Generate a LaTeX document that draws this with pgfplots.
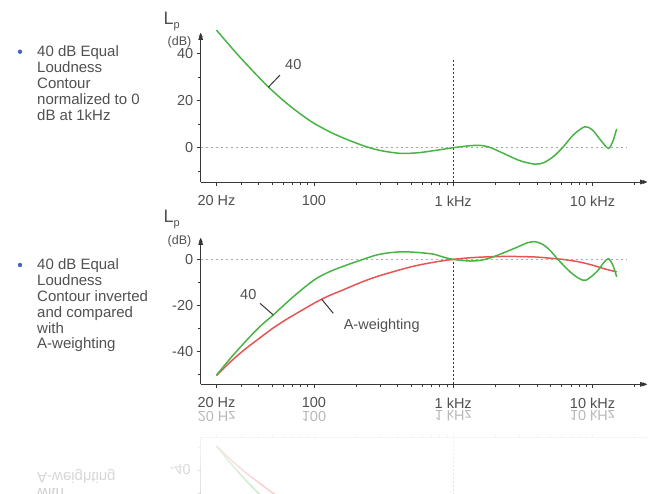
\documentclass[border=0pt]{standalone}
\usepackage{pgfplots}
\pgfplotsset{compat=1.18}
\usepackage{pgfplotstable}
\usepackage{fontspec}
\setmainfont{Liberation Sans}
\usetikzlibrary{arrows.meta,fadings}
\definecolor{txt}{RGB}{80,80,80}
\definecolor{gcurve}{RGB}{72,180,68}
\definecolor{rcurve}{RGB}{232,84,84}
\definecolor{axisc}{RGB}{55,55,55}
\definecolor{axisl}{RGB}{150,150,150}
\definecolor{dashg}{RGB}{165,165,165}
\definecolor{dashv}{RGB}{175,165,205}
\definecolor{bullet}{RGB}{70,100,200}

\pgfplotstableread{
f db
20 50
25 43.3
30 38
38 31.5
47 25.9
60 20.2
75 15.6
100 10.4
145 5.4
225 0.9
300 -1.2
414 -2.4
550 -2.2
718 -1.3
1000 0
1300 0.8
1550 1.0
1800 0.3
2160 -1.7
3000 -5.5
3860 -7.0
4500 -6.3
5300 -3.5
6170 0.4
7300 5.5
8800 8.9
10000 7.5
11500 3.0
13000 -0.3
14000 2.8
14900 8.0
}\topgreen

\pgfplotstableread{
f db
20 -50.3
25 -43.2
30 -37.8
35 -33.4
42 -28.6
51 -24.2
70 -16.6
100 -9.0
130 -5.3
171 -2.5
220 -0.2
281 1.9
350 2.9
437 3.3
560 3.0
718 2.3
850 1.0
1000 0
1320 -0.7
1600 -0.3
1940 1.1
2800 5.0
3400 7.2
3860 7.7
4400 6.5
4940 4.0
5800 -0.8
6900 -5.4
8000 -8.3
9000 -9.0
10700 -5.4
12000 -1.5
13000 0.3
14000 -2.5
14900 -7.6
}\botgreen

\pgfplotstableread{
f db
20 -50.5
25 -44.7
31.5 -39.4
40 -34.6
50 -30.2
63 -26.2
80 -22.5
100 -19.1
125 -16.1
160 -13.4
200 -10.9
250 -8.6
315 -6.6
400 -4.8
500 -3.2
630 -1.9
800 -0.8
1000 0
1250 0.6
1600 1.0
2000 1.2
2500 1.3
3150 1.2
4000 1.0
5000 0.5
6300 -0.1
8000 -1.1
10000 -2.5
12500 -4.3
14900 -5.4
}\aweight

\begin{document}
\begin{tikzpicture}[x=1pt,y=1pt]
\clip (0,0) rectangle (648,493);

% ---------- top axis ----------
\begin{axis}[at={(200.7pt,311pt)}, anchor=south west,
  scale only axis, width=446.3pt, height=149pt,
  xmode=log, xmin=15.4, xmax=24600, ymin=-14.6, ymax=48.8,
  axis lines=left,
  axis line style={axisc, line width=0.8pt},
  tick style={axisc, line width=0.6pt},
  major tick length=4pt, minor tick length=3pt, tick align=outside,
  xtick={20,100,1000,10000},
  xticklabels={20 Hz,100,1 kHz,10 kHz},
  minor xtick={30,40,50,60,70,80,90,200,300,400,500,600,700,800,900,2000,3000,4000,5000,6000,7000,8000,9000,20000},
  ytick={0,20,40}, yticklabels={0,20,40}, minor ytick={-10,10,30},
  tick label style={font=\fontsize{14.5}{14.5}\selectfont, text=txt},
  xticklabel style={yshift=-6pt},
  clip=false]
\draw[dashg, line width=0.8pt, dash pattern=on 2.5pt off 2.5pt] (axis cs:15.4,0) -- (axis cs:17500,0);
\draw[axisc, line width=0.8pt, dash pattern=on 2pt off 2pt] (axis cs:1000,-14.6) -- (axis cs:1000,37.3);
\addplot[gcurve, line width=1.5pt, smooth, mark=none] table[x=f,y=db] {\topgreen};
\end{axis}

% ---------- bottom axis ----------
\begin{axis}[at={(200.7pt,108.7pt)}, anchor=south west,
  scale only axis, width=446.3pt, height=146.3pt,
  xmode=log, xmin=15.4, xmax=24600, ymin=-54.3, ymax=9.3,
  axis lines=left,
  axis line style={axisc, line width=0.8pt},
  tick style={axisc, line width=0.6pt},
  major tick length=4pt, minor tick length=3pt, tick align=outside,
  xtick={20,100,1000,10000},
  xticklabels={20 Hz,100,1 kHz,10 kHz},
  minor xtick={30,40,50,60,70,80,90,200,300,400,500,600,700,800,900,2000,3000,4000,5000,6000,7000,8000,9000,20000},
  ytick={-40,-20,0}, yticklabels={-40,-20,0}, minor ytick={-50,-30,-10},
  tick label style={font=\fontsize{14.5}{14.5}\selectfont, text=txt},
  xticklabel style={yshift=-6pt},
  clip=false]
\draw[dashv, line width=0.9pt, dash pattern=on 2.5pt off 2.5pt] (axis cs:15.4,0) -- (axis cs:17500,0);
\draw[axisc, line width=0.8pt, dash pattern=on 2pt off 2pt] (axis cs:1000,-54.3) -- (axis cs:1000,0);
\addplot[rcurve, line width=1.5pt, smooth, mark=none] table[x=f,y=db] {\aweight};
\addplot[gcurve, line width=1.5pt, smooth, mark=none] table[x=f,y=db] {\botgreen};
\end{axis}

% ---------- reflection (mirror image of the lower panel) ----------
\begin{scope}[opacity=0.4]
\begin{axis}[at={(200.7pt,56pt)}, anchor=north west,
  scale only axis, width=446.3pt, height=146.3pt,
  xmode=log, xmin=15.4, xmax=24600, ymin=-9.3, ymax=54.3,
  axis x line=top, axis y line=left,
  axis line style={axisl, line width=0.8pt, -},
  tick style={axisl, line width=0.6pt},
  major tick length=4pt, minor tick length=3pt, tick align=outside,
  xtick={20,100,1000,10000}, xticklabels={},
  minor xtick={30,40,50,60,70,80,90,200,300,400,500,600,700,800,900,2000,3000,4000,5000,6000,7000,8000,9000,20000},
  ytick={0,20,40}, yticklabels={}, minor ytick={10,30,50},
  clip=false]
\draw[dashv, line width=0.9pt, dash pattern=on 2.5pt off 2.5pt] (axis cs:15.4,0) -- (axis cs:17500,0);
\draw[axisl, line width=0.8pt, dash pattern=on 2pt off 2pt] (axis cs:1000,54.3) -- (axis cs:1000,0);
\addplot[rcurve, line width=1.5pt, smooth, mark=none] table[x=f,y expr=-\thisrow{db}] {\aweight};
\addplot[gcurve, line width=1.5pt, smooth, mark=none] table[x=f,y expr=-\thisrow{db}] {\botgreen};
\end{axis}
\foreach \t/\x in {20 Hz/216.7, 100/314, 1 kHz/453.3, 10 kHz/592.6}
  \node[yscale=-1, inner sep=0, text=txt, font=\fontsize{14.5}{14.5}\selectfont] at (\x,77) {\t};
\node[yscale=-1, anchor=east, inner sep=0, text=txt, font=\fontsize{14.5}{14.5}\selectfont] at (191,23.5) {-40};
\node[yscale=-1, anchor=base west, inner sep=0, text=txt, font=\fontsize{15}{15}\selectfont] at (37,20.8) {A-weighting};
\node[yscale=-1, anchor=base west, inner sep=0, text=txt, font=\fontsize{15}{15}\selectfont] at (37,5) {with};
\end{scope}
\fill[white, path fading=south, fill opacity=0.85] (0,-30) rectangle (648,66);

% ---------- arrow heads of the axes ----------
\fill[axisc] (647,311) -- (640,313.5) -- (640,308.5) -- cycle;
\fill[axisc] (200.7,460) -- (198.2,453) -- (203.2,453) -- cycle;
\fill[axisc] (647,108.7) -- (640,111.2) -- (640,106.2) -- cycle;
\fill[axisc] (200.7,255) -- (198.2,248) -- (203.2,248) -- cycle;

% ---------- Lp labels ----------
\node[text=txt, inner sep=0] at (171.7,472) {\fontsize{18}{18}\selectfont L\raisebox{-4pt}{\fontsize{11}{11}\selectfont p}};
\node[text=txt, inner sep=0] at (179.5,451) {\fontsize{12.5}{12.5}\selectfont (dB)};
\node[text=txt, inner sep=0] at (171.7,273.5) {\fontsize{18}{18}\selectfont L\raisebox{-4pt}{\fontsize{11}{11}\selectfont p}};
\node[text=txt, inner sep=0] at (179.5,251.5) {\fontsize{12.5}{12.5}\selectfont (dB)};

% ---------- curve labels ----------
\node[text=txt, inner sep=0, font=\fontsize{14.5}{14.5}\selectfont] at (293.3,428) {40};
\draw[axisc, line width=1pt] (280,418) -- (268.3,405.7);
\node[text=txt, inner sep=0, font=\fontsize{14.5}{14.5}\selectfont] at (248.3,198) {40};
\draw[axisc, line width=1pt] (260,189.7) -- (273.3,178);
\node[text=txt, inner sep=0, font=\fontsize{14.5}{14.5}\selectfont] at (381.7,167) {A-weighting};
\draw[axisc, line width=1pt] (333.3,179.7) -- (321.7,193.7);

% ---------- left text ----------
\fill[bullet] (20,441.3) circle (2.2);
\foreach \t/\y in {40 dB Equal/436, Loudness/420.2, Contour/404.4, normalized to 0/388.6, dB at 1kHz/372.8}
  \node[anchor=base west, inner sep=0, text=txt, font=\fontsize{15}{15}\selectfont] at (37,\y) {\t};
\fill[bullet] (20,228) circle (2.2);
\foreach \t/\y in {40 dB Equal/223, Loudness/207.2, Contour inverted/191.4, and compared/175.6, with/159.8, A-weighting/144}
  \node[anchor=base west, inner sep=0, text=txt, font=\fontsize{15}{15}\selectfont] at (37,\y) {\t};
\end{tikzpicture}
\end{document}
